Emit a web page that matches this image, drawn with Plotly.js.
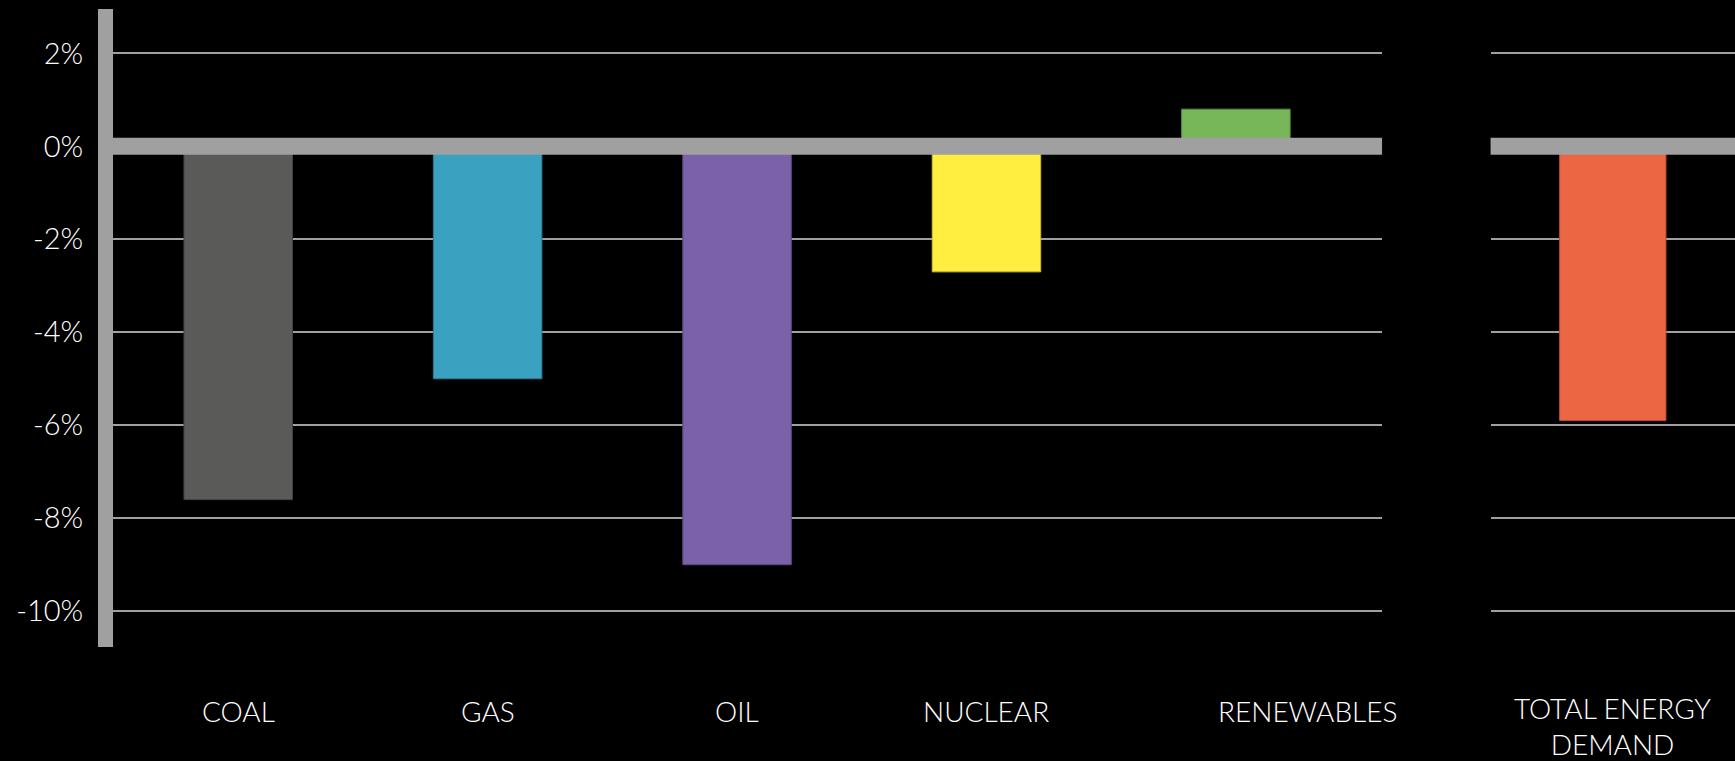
<!DOCTYPE html>
<html>
<head>
<meta charset="utf-8">
<script src="https://cdn.plot.ly/plotly-3.0.1.min.js"></script>
<style>
  html, body { margin: 0; padding: 0; background: #000; }
  #chart { width: 1735px; height: 761px; }
</style>
</head>
<body>
<div id="chart"></div>
<script>
// ---- data ----
const categories = ['COAL', 'GAS', 'OIL', 'NUCLEAR', 'RENEWABLES'];
const changes = [-7.6, -5.0, -9.0, -2.7, 0.8];
const barColors = ['#5a5a58', '#3aa1c1', '#7a61a8', '#ffee40', '#78b65a'];
const barEdges = ['#434342', '#2b7d96', '#5d4a85', '#c9bb30', '#5a8c42'];

const totalCategory = ['TOTAL ENERGY<br>DEMAND'];
const totalChange = [-5.9];
const totalColor = ['#ec6644'];
const totalEdge = ['#b84e33'];

const tickValues = [2, 0, -2, -4, -6, -8, -10];
const tickLabels = ['2%', '0%', '-2%', '-4%', '-6%', '-8%', '-10%'];

// ---- style ----
const FONT = 'Lato, "Open Sans", sans-serif';
const GRAY = '#a0a0a0';
const yRange = [-10.77, 2.955];

const traces = [
  {
    type: 'bar', x: categories, y: changes, xaxis: 'x', yaxis: 'y',
    width: 0.435,
    marker: { color: barColors, line: { color: barEdges, width: 1 } },
    hoverinfo: 'skip'
  },
  {
    type: 'bar', x: totalCategory, y: totalChange, xaxis: 'x2', yaxis: 'y2',
    width: 0.435,
    marker: { color: totalColor, line: { color: totalEdge, width: 1 } },
    hoverinfo: 'skip'
  }
];

const labelAnnotations = categories.map((c, i) => ({
  xref: 'x', yref: 'paper', x: c, y: -0.101,
  xanchor: 'center', yanchor: 'middle', showarrow: false,
  xshift: c === 'RENEWABLES' ? 72 : 0,
  text: c, font: { family: FONT, size: 28, color: '#ffffff', weight: 300 }
}));
labelAnnotations.push({
  xref: 'x2', yref: 'paper', x: totalCategory[0], y: -0.124,
  xanchor: 'center', yanchor: 'middle', showarrow: false,
  text: totalCategory[0], font: { family: FONT, size: 28, color: '#ffffff', weight: 300 }
});

const layout = {
  width: 1735, height: 761,
  paper_bgcolor: '#000000', plot_bgcolor: '#000000',
  margin: { l: 113, r: 0, t: 9, b: 114 },
  showlegend: false,
  hovermode: false,
  xaxis: {
    domain: [0, 0.7824], type: 'category', range: [-0.502, 4.586],
    showticklabels: false, showgrid: false, zeroline: false, showline: false, ticks: '',
    fixedrange: true
  },
  xaxis2: {
    domain: [0.8493, 1], type: 'category', range: [-0.5, 0.5], anchor: 'y2',
    showticklabels: false, showgrid: false, zeroline: false, showline: false, ticks: '',
    fixedrange: true
  },
  yaxis: {
    range: yRange, anchor: 'x',
    tickmode: 'array', tickvals: tickValues, ticktext: tickLabels,
    showgrid: true, gridcolor: GRAY, gridwidth: 2,
    zeroline: false,
    showline: true, linecolor: GRAY, linewidth: 15,
    ticks: '', ticklabelstandoff: 9,
    tickfont: { family: FONT, size: 29, color: '#ffffff', weight: 300 },
    fixedrange: true
  },
  yaxis2: {
    range: yRange, anchor: 'x2',
    tickmode: 'array', tickvals: tickValues,
    showticklabels: false,
    showgrid: true, gridcolor: GRAY, gridwidth: 2,
    zeroline: false, showline: false, ticks: '',
    fixedrange: true
  },
  shapes: [
    { type: 'line', layer: 'above', xref: 'x domain', yref: 'y', x0: 0, x1: 1, y0: 0, y1: 0,
      line: { color: GRAY, width: 17 } },
    { type: 'line', layer: 'above', xref: 'x2 domain', yref: 'y2', x0: 0, x1: 1, y0: 0, y1: 0,
      line: { color: GRAY, width: 17 } }
  ],
  annotations: labelAnnotations
};

Plotly.newPlot('chart', traces, layout, { displayModeBar: false, staticPlot: true });
</script>
</body>
</html>
